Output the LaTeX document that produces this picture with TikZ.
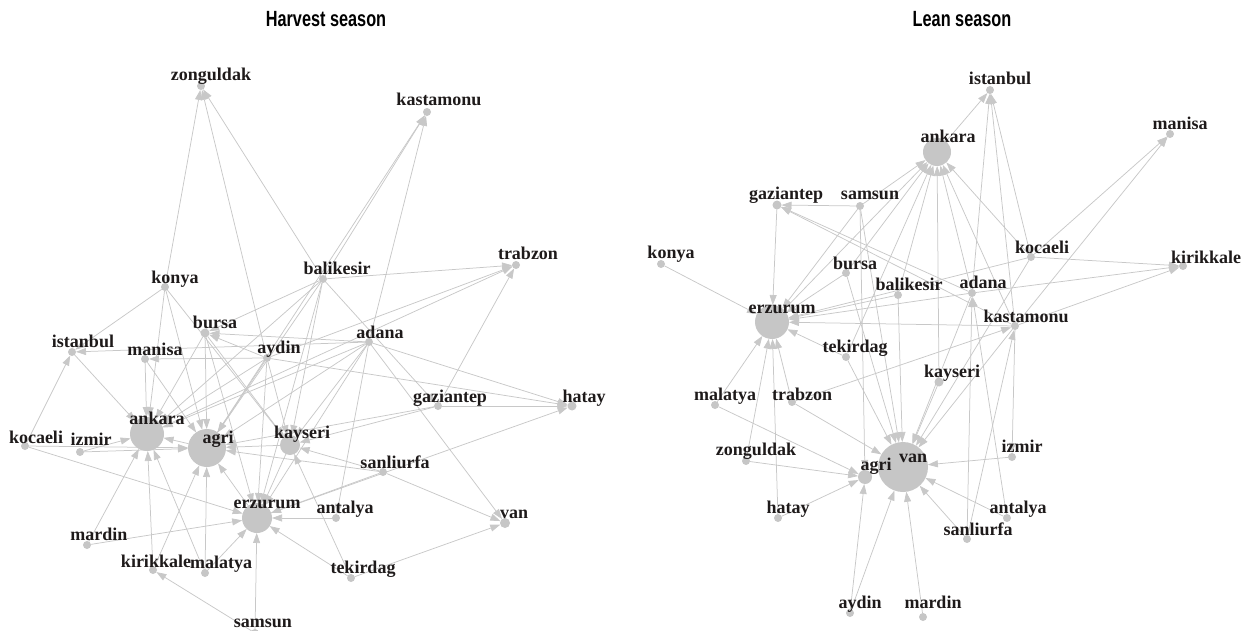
\documentclass[tikz,border=0pt]{standalone}
\usepackage{fontspec}
\setmainfont{Liberation Serif}
\newfontfamily\titlefont[FakeStretch=0.74]{Liberation Sans}
\usetikzlibrary{arrows.meta,backgrounds}
\definecolor{nodegray}{HTML}{C6C6C6}
\definecolor{edgegray}{HTML}{C8C8C8}
\definecolor{txt}{HTML}{1E1A1A}
\tikzset{
  dot/.style={circle,fill=nodegray,draw=none,inner sep=0pt,outer sep=0pt,minimum size=8pt},
  lbl/.style={anchor=base,inner sep=0pt,text=txt,font=\fontsize{18}{20}\selectfont\bfseries},
  edge/.style={draw=edgegray,line width=0.75pt,-{Triangle[length=10pt,width=7pt]}},
  ttl/.style={anchor=base,inner sep=0pt,font=\titlefont\bfseries\fontsize{22}{24}\selectfont}
}
% name, x, y, size
\newcommand\citydot[4]{\node[dot,minimum size=#4pt] (#1) at (#2,#3) {};}
% name, x, y, text
\newcommand\clabel[4]{\node[lbl] (#1-l) at (#2,#3) {#4};}
\newcommand\ed[2]{\draw[edge] (#1) -- (#2);}
\begin{document}
\begin{tikzpicture}[x=1pt,y=-1pt]
\useasboundingbox (0,0) rectangle (1252,631);
\node[ttl] (t1) at (326,27) {Harvest season};
\node[ttl] (t2) at (962,27) {Lean season};
% ---------------- Left graph: nodes
\citydot{Lzonguldak}{201}{86}{8}
\citydot{Lkastamonu}{427}{112}{8}
\citydot{Ltrabzon}{516}{265}{8}
\citydot{Lbalikesir}{323}{279}{8}
\citydot{Lkonya}{165}{287}{8}
\citydot{Lbursa}{205}{333}{9}
\citydot{Listanbul}{72}{352}{8}
\citydot{Lmanisa}{145}{359}{8}
\citydot{Laydin}{267}{358}{8}
\citydot{Ladana}{369}{342}{8}
\citydot{Lgaziantep}{438}{406}{8}
\citydot{Lhatay}{572}{406}{9}
\citydot{Lkocaeli}{25}{446}{8}
\citydot{Lizmir}{80}{452}{8}
\citydot{Lankara}{147}{434}{34}
\citydot{Lagri}{207}{448}{38}
\citydot{Lkayseri}{290}{445}{20}
\citydot{Lsanliurfa}{383}{472}{8}
\citydot{Lerzurum}{257}{518}{30}
\citydot{Lantalya}{336}{518}{8}
\citydot{Lvan}{505}{523}{10}
\citydot{Lmardin}{87}{545}{8}
\citydot{Lkirikkale}{153}{570}{8}
\citydot{Lmalatya}{205}{573}{8}
\citydot{Ltekirdag}{351}{578}{8}
\citydot{Lsamsun}{255}{633}{8}
% ---------------- Right graph: nodes
\citydot{Ristanbul}{990}{90}{8}
\citydot{Rankara}{937}{152}{28}
\citydot{Rmanisa}{1170}{134}{8}
\citydot{Rgaziantep}{777}{205}{9}
\citydot{Rsamsun}{860}{206}{8}
\citydot{Rkonya}{661}{264}{8}
\citydot{Rbursa}{846}{273}{8}
\citydot{Rbalikesir}{898}{295}{8}
\citydot{Rerzurum}{772}{322}{34}
\citydot{Rkocaeli}{1031}{257}{8}
\citydot{Rkirikkale}{1183}{266}{8}
\citydot{Radana}{972}{293}{8}
\citydot{Rkastamonu}{1015}{326}{8}
\citydot{Rtekirdag}{846}{357}{8}
\citydot{Rkayseri}{939}{382}{9}
\citydot{Rmalatya}{715}{405}{8}
\citydot{Rtrabzon}{792}{402}{8}
\citydot{Rzonguldak}{746}{461}{8}
\citydot{Ragri}{865}{477}{14}
\citydot{Rvan}{903}{467}{50}
\citydot{Rizmir}{1012}{457}{8}
\citydot{Rhatay}{778}{518}{8}
\citydot{Rantalya}{1007}{518}{8}
\citydot{Rsanliurfa}{967}{539}{8}
\citydot{Raydin}{850}{613}{8}
\citydot{Rmardin}{923}{617}{8}
% ---------------- edges
\begin{scope}[on background layer]
\ed{Lkonya}{Lzonguldak}
\ed{Laydin}{Lzonguldak}
\ed{Lbalikesir}{Lzonguldak}
\ed{Lbalikesir}{Lkastamonu}
\ed{Lagri}{Lkastamonu}
\ed{Ladana}{Lkastamonu}
\ed{Lbalikesir}{Ltrabzon}
\ed{Laydin}{Ltrabzon}
\ed{Lankara}{Ltrabzon}
\ed{Lgaziantep}{Ltrabzon}
\ed{Lkonya}{Listanbul}
\ed{Lkocaeli}{Listanbul}
\ed{Ladana}{Listanbul}
\ed{Laydin}{Lmanisa}
\ed{Listanbul}{Lankara}
\ed{Lkonya}{Lankara}
\ed{Lkonya}{Lagri}
\ed{Lkonya}{Lkayseri}
\ed{Lbursa}{Lankara}
\ed{Lbursa}{Lagri}
\ed{Lbursa}{Lkayseri}
\ed{Lbursa}{Lerzurum}
\ed{Lmanisa}{Lankara}
\ed{Lmanisa}{Lagri}
\ed{Laydin}{Lankara}
\ed{Laydin}{Lagri}
\ed{Laydin}{Lkayseri}
\ed{Laydin}{Lerzurum}
\ed{Laydin}{Lbursa}
\ed{Laydin}{Lhatay}
\ed{Lbalikesir}{Lankara}
\ed{Lbalikesir}{Lagri}
\ed{Lbalikesir}{Lerzurum}
\ed{Lbalikesir}{Lkayseri}
\ed{Lbalikesir}{Lbursa}
\ed{Lbalikesir}{Lgaziantep}
\ed{Ladana}{Lankara}
\ed{Ladana}{Lagri}
\ed{Ladana}{Lerzurum}
\ed{Ladana}{Lkayseri}
\ed{Ladana}{Lbursa}
\ed{Ladana}{Lhatay}
\ed{Ladana}{Lvan}
\ed{Ladana}{Lantalya}
\ed{Lgaziantep}{Lagri}
\ed{Lgaziantep}{Lkayseri}
\ed{Lgaziantep}{Lhatay}
\ed{Lkayseri}{Lagri}
\ed{Lkayseri}{Lerzurum}
\ed{Lsanliurfa}{Lkayseri}
\ed{Lsanliurfa}{Lagri}
\ed{Lsanliurfa}{Lvan}
\ed{Lsanliurfa}{Lerzurum}
\ed{Lantalya}{Lerzurum}
\ed{Ltekirdag}{Lerzurum}
\ed{Ltekirdag}{Lvan}
\ed{Ltekirdag}{Lkayseri}
\ed{Lerzurum}{Lhatay}
\ed{Lkocaeli}{Lerzurum}
\ed{Lkocaeli}{Lagri}
\ed{Lizmir}{Lankara}
\ed{Lizmir}{Lagri}
\ed{Lmardin}{Lankara}
\ed{Lmardin}{Lerzurum}
\ed{Lkirikkale}{Lankara}
\ed{Lkirikkale}{Lagri}
\ed{Lsamsun}{Lkirikkale}
\ed{Lmalatya}{Lankara}
\ed{Lmalatya}{Lagri}
\ed{Lmalatya}{Lerzurum}
\ed{Lsamsun}{Lerzurum}
\ed{Lagri}{Lankara}
\ed{Lerzurum}{Lagri}
% right
\ed{Rankara}{Ristanbul}
\ed{Rkocaeli}{Ristanbul}
\ed{Rkastamonu}{Ristanbul}
\ed{Radana}{Ristanbul}
\ed{Rsamsun}{Rankara}
\ed{Rbursa}{Rankara}
\ed{Rbalikesir}{Rankara}
\ed{Rkayseri}{Rankara}
\ed{Radana}{Rankara}
\ed{Rkastamonu}{Rankara}
\ed{Rkocaeli}{Rankara}
\ed{Rtekirdag}{Rankara}
\ed{Rerzurum}{Rankara}
\ed{Rkocaeli}{Rmanisa}
\ed{Rkastamonu}{Rmanisa}
\ed{Rkocaeli}{Rkirikkale}
\ed{Radana}{Rkirikkale}
\ed{Rkastamonu}{Rkirikkale}
\ed{Rsamsun}{Rgaziantep}
\ed{Radana}{Rgaziantep}
\ed{Rkastamonu}{Rgaziantep}
\ed{Rgaziantep}{Rerzurum}
\ed{Rkonya}{Rerzurum}
\ed{Rsamsun}{Rerzurum}
\ed{Rbursa}{Rerzurum}
\ed{Rbalikesir}{Rerzurum}
\ed{Radana}{Rerzurum}
\ed{Rkastamonu}{Rerzurum}
\ed{Rkocaeli}{Rerzurum}
\ed{Rtekirdag}{Rerzurum}
\ed{Rmalatya}{Rerzurum}
\ed{Rzonguldak}{Rerzurum}
\ed{Rhatay}{Rerzurum}
\ed{Rtrabzon}{Rerzurum}
\ed{Rsamsun}{Rvan}
\ed{Rsamsun}{Ragri}
\ed{Rbursa}{Rvan}
\ed{Rbalikesir}{Rvan}
\ed{Radana}{Rvan}
\ed{Rkastamonu}{Rvan}
\ed{Rkayseri}{Rvan}
\ed{Rtekirdag}{Rvan}
\ed{Rkocaeli}{Rvan}
\ed{Rizmir}{Rvan}
\ed{Rantalya}{Rvan}
\ed{Rsanliurfa}{Rvan}
\ed{Rmardin}{Rvan}
\ed{Raydin}{Rvan}
\ed{Raydin}{Ragri}
\ed{Rmalatya}{Ragri}
\ed{Rtrabzon}{Rvan}
\ed{Rtrabzon}{Rkastamonu}
\ed{Rzonguldak}{Ragri}
\ed{Rhatay}{Ragri}
\ed{Rkastamonu}{Rizmir}
\ed{Rantalya}{Radana}
\ed{Rsanliurfa}{Radana}
\ed{Rsanliurfa}{Rkastamonu}
\end{scope}
% ---------------- labels
\clabel{Lzonguldak}{211}{81}{zonguldak}
\clabel{Lkastamonu}{439}{106}{kastamonu}
\clabel{Ltrabzon}{528}{259}{trabzon}
\clabel{Lbalikesir}{337}{274}{balikesir}
\clabel{Lkonya}{175}{283}{konya}
\clabel{Lbursa}{215}{328}{bursa}
\clabel{Listanbul}{83}{347}{istanbul}
\clabel{Lmanisa}{155}{355}{manisa}
\clabel{Laydin}{279}{353}{aydin}
\clabel{Ladana}{380}{338}{adana}
\clabel{Lgaziantep}{450}{402}{gaziantep}
\clabel{Lhatay}{584}{402}{hatay}
\clabel{Lkocaeli}{36}{443}{kocaeli}
\clabel{Lizmir}{91}{445}{izmir}
\clabel{Lankara}{157}{424}{ankara}
\clabel{Lagri}{218}{443}{agri}
\clabel{Lkayseri}{302}{438}{kayseri}
\clabel{Lsanliurfa}{395}{468}{sanliurfa}
\clabel{Lerzurum}{267}{508}{erzurum}
\clabel{Lantalya}{345}{513}{antalya}
\clabel{Lvan}{514}{518}{van}
\clabel{Lmardin}{99}{540}{mardin}
\clabel{Lkirikkale}{156}{567}{kirikkale}
\clabel{Lmalatya}{221}{568}{malatya}
\clabel{Ltekirdag}{363}{573}{tekirdag}
\clabel{Lsamsun}{263}{627}{samsun}
\clabel{Ristanbul}{1000}{85}{istanbul}
\clabel{Rankara}{948}{143}{ankara}
\clabel{Rmanisa}{1180}{130}{manisa}
\clabel{Rgaziantep}{786}{200}{gaziantep}
\clabel{Rsamsun}{870}{200}{samsun}
\clabel{Rkonya}{671}{258}{konya}
\clabel{Rbursa}{855}{269}{bursa}
\clabel{Rbalikesir}{909}{290}{balikesir}
\clabel{Rerzurum}{782}{313}{erzurum}
\clabel{Rkocaeli}{1042}{253}{kocaeli}
\clabel{Rkirikkale}{1206}{263}{kirikkale}
\clabel{Radana}{983}{288}{adana}
\clabel{Rkastamonu}{1026}{322}{kastamonu}
\clabel{Rtekirdag}{855}{352}{tekirdag}
\clabel{Rkayseri}{952}{377}{kayseri}
\clabel{Rmalatya}{725}{400}{malatya}
\clabel{Rtrabzon}{802}{400}{trabzon}
\clabel{Rzonguldak}{756}{455}{zonguldak}
\clabel{Ragri}{876}{470}{agri}
\clabel{Rvan}{913}{462}{van}
\clabel{Rizmir}{1022}{452}{izmir}
\clabel{Rhatay}{788}{513}{hatay}
\clabel{Rantalya}{1018}{513}{antalya}
\clabel{Rsanliurfa}{978}{535}{sanliurfa}
\clabel{Raydin}{860}{608}{aydin}
\clabel{Rmardin}{933}{608}{mardin}
\end{tikzpicture}
\end{document}
